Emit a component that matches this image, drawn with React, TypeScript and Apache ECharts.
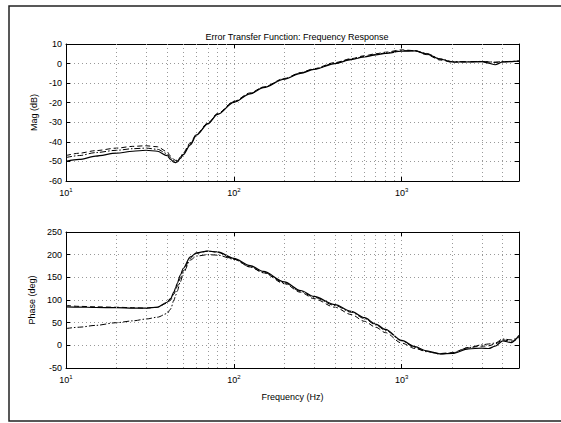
import React, { useEffect, useRef } from "react";
import * as echarts from "echarts";

const FREQ = [10, 12, 15, 20, 25, 30, 35, 40, 42, 44, 45, 46, 48, 50, 55, 60, 70, 80, 100, 125, 150, 200, 250, 300, 400, 500, 600, 700, 800, 1000, 1200, 1400, 1700, 2000, 2500, 3000, 3300, 3600, 4000, 4500, 5000];

const MAG_SOLID = [-50, -49, -47.3, -45.8, -44.8, -44.3, -44.8, -47, -49, -50.4, -50.6, -50.3, -48.5, -46.5, -41.5, -36.5, -30.8, -26, -19.8, -15.5, -12.3, -8, -5, -3, 0, 2, 3.4, 4.4, 5.2, 6.3, 6.5, 5, 2.3, 0.8, 0.8, 1, 0.2, -0.6, 0.8, 1, 1.2];
const MAG_DASHED = [-47, -45.8, -44.5, -43.2, -42.3, -42, -42.5, -45, -47.3, -49, -49.5, -49.4, -47.8, -45.5, -40.5, -36, -30.3, -25.5, -19.3, -15, -12, -7.6, -4.6, -2.6, 0.5, 2.5, 4, 5, 5.8, 7, 6.6, 4.6, 1.8, 0.7, 0.9, 1, 0.8, 0.6, 0.9, 1, 1.2];
const MAG_DASHDOT = [-48, -47, -45.5, -44.3, -43.5, -43.2, -43.8, -46, -48.2, -49.6, -50, -49.8, -48, -46, -41, -36.3, -30.6, -25.8, -19.6, -15.3, -12.1, -7.8, -4.8, -2.8, 0.2, 2.2, 3.6, 4.6, 5.4, 6.6, 6.6, 5.2, 2.4, 1, 1, 1.1, 0.9, 0.7, 1, 1.1, 1.3];

const PH_SOLID = [85, 84.5, 83.5, 83, 82, 82, 84, 95, 103, 118, 127, 137, 155, 170, 195, 204, 208, 206, 192, 176, 163, 140, 121, 108, 90, 75, 61, 47, 35, 11, -3, -12, -19, -18, -8, -6, -7, -2, 10, 6, 22];
const PH_DASHED = [88, 86, 85, 84, 83, 82, 84, 93, 100, 113, 121, 130, 148, 165, 192, 203, 208, 205, 190, 173, 160, 136, 117, 103, 84, 68, 53, 40, 28, 5, -7, -13, -18, -16, -5, -2, -1, 3, 12, 9, 15];
const PH_DASHDOT = [37, 40, 44, 50, 54, 58, 62, 70, 80, 100, 110, 120, 140, 160, 188, 197, 200, 199, 190, 173, 161, 138, 119, 106, 88, 73, 59, 45, 33, 10, -5, -14, -19, -17, -5, 1, 3, 5, 14, 12, 18];

const MINOR_X = [20, 30, 40, 50, 60, 70, 80, 90, 200, 300, 400, 500, 600, 700, 800, 900, 2000, 3000, 4000];

const TITLE = "Error Transfer Function: Frequency Response";
const FONT = "Liberation Sans";
const GRID_STYLE = { type: [1, 3], color: "#999", width: 1 };

export default function App() {
  const ref = useRef<HTMLDivElement>(null);
  useEffect(() => {
    if (!ref.current) return;
    const chart = echarts.init(ref.current, null, { renderer: "svg" });
    const pairs = (arr: number[]) => FREQ.map((f, i) => [f, arr[i]]);
    const grids = [
      { left: 66, top: 44, width: 453, height: 137 },
      { left: 66, top: 232, width: 453, height: 136 },
    ];
    const xLabel = (v: number) => {
      const e = Math.round(Math.log10(v));
      if (Math.abs(Math.log10(v) - e) > 1e-6 || v > 1000) return "";
      return `{b|10}{s|${e}}`;
    };
    const mkX = (gi: number, bottom: boolean, name?: string) => ({
      type: "log",
      logBase: 10,
      gridIndex: gi,
      min: 10,
      max: 5000,
      position: bottom ? "bottom" : "top",
      name: name || "",
      nameLocation: "middle",
      nameGap: 24,
      nameTextStyle: { fontFamily: FONT, fontSize: 9, color: "#000" },
      axisLine: { show: true, onZero: false, lineStyle: { color: "#000", width: 1 } },
      axisTick: { show: true, inside: true, length: 4, lineStyle: { color: "#000" } },
      axisLabel: bottom
        ? {
            show: true,
            formatter: xLabel,
            margin: 6,
            color: "#000",
            fontFamily: FONT,
            rich: {
              b: { fontSize: 9, fontFamily: FONT, color: "#000" },
              s: { fontSize: 6, fontFamily: FONT, color: "#000", padding: [0, 0, 6, 0] },
            },
          }
        : { show: false },
      splitLine: bottom ? { show: true, lineStyle: GRID_STYLE } : { show: false },
    });
    const mkY = (gi: number, left: boolean, min: number, max: number, interval: number, name?: string) => ({
      type: "value",
      gridIndex: gi,
      min,
      max,
      interval,
      position: left ? "left" : "right",
      name: name || "",
      nameLocation: "middle",
      nameGap: 24,
      nameTextStyle: { fontFamily: FONT, fontSize: 9, color: "#000" },
      axisLine: { show: true, onZero: false, lineStyle: { color: "#000", width: 1 } },
      axisTick: { show: true, inside: true, length: 4, lineStyle: { color: "#000" } },
      axisLabel: left
        ? { show: true, color: "#000", fontFamily: FONT, fontSize: 9, margin: 4 }
        : { show: false },
      splitLine: left ? { show: true, lineStyle: GRID_STYLE } : { show: false },
    });
    const lineSeries = (gi: number, arr: number[], type: any, width: number) => ({
      type: "line",
      xAxisIndex: gi * 2,
      yAxisIndex: gi * 2,
      data: pairs(arr),
      showSymbol: false,
      symbol: "none",
      smooth: 0.3,
      smoothMonotone: "x",
      lineStyle: { color: "#000", width, type },
      z: 3,
    });
    const minorSeries = (gi: number) => ({
      type: "line",
      xAxisIndex: gi * 2,
      yAxisIndex: gi * 2,
      data: [],
      symbol: "none",
      z: 1,
      markLine: {
        silent: true,
        symbol: ["none", "none"],
        label: { show: false },
        lineStyle: GRID_STYLE,
        data: MINOR_X.map((x) => ({ xAxis: x })),
        animation: false,
      },
    });
    const DASH = [5, 3];
    const DASHDOT = [6, 2, 1.5, 2];
    chart.setOption({
      animation: false,
      backgroundColor: "#fff",
      title: {
        text: TITLE,
        left: 292,
        top: 27,
        textAlign: "center",
        textStyle: { fontFamily: FONT, fontSize: 9, fontWeight: "normal", color: "#000" },
      },
      grid: grids.map((g) => ({ ...g, show: false, containLabel: false })),
      xAxis: [mkX(0, true), mkX(0, false), mkX(1, true, "Frequency (Hz)"), mkX(1, false)],
      yAxis: [
        mkY(0, true, -60, 10, 10, "Mag (dB)"),
        mkY(0, false, -60, 10, 10),
        mkY(1, true, -50, 250, 50, "Phase (deg)"),
        mkY(1, false, -50, 250, 50),
      ],
      series: [
        minorSeries(0),
        lineSeries(0, MAG_SOLID, "solid", 1.2),
        lineSeries(0, MAG_DASHED, DASH, 1),
        lineSeries(0, MAG_DASHDOT, DASHDOT, 1),
        minorSeries(1),
        lineSeries(1, PH_SOLID, "solid", 1.2),
        lineSeries(1, PH_DASHED, DASH, 1),
        lineSeries(1, PH_DASHDOT, DASHDOT, 1),
      ],
      graphic: [
        {
          type: "polyline",
          shape: { points: [[561, 6], [9, 6], [9, 421], [561, 421]] },
          style: { stroke: "#222", lineWidth: 1.5, fill: "none" },
          silent: true,
        },
      ],
    });
    return () => chart.dispose();
  }, []);
  return (
    <div
      ref={ref}
      style={{ position: "fixed", left: 0, top: 0, width: 561, height: 423, background: "#fff" }}
    />
  );
}
